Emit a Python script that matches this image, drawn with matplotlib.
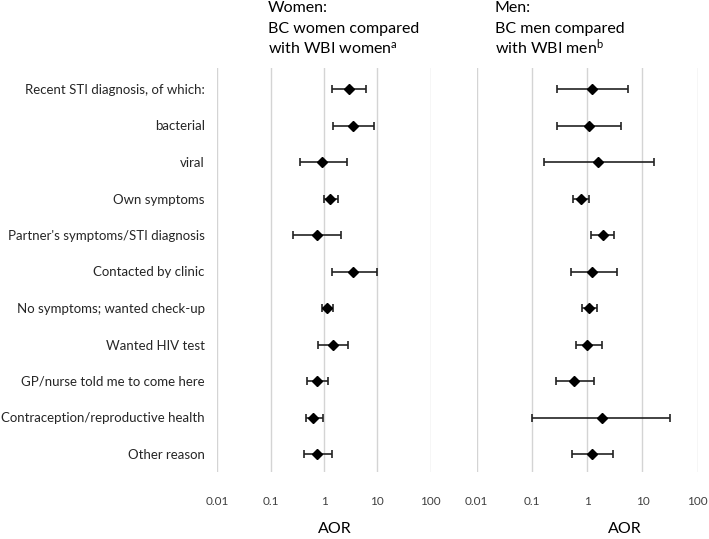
import matplotlib
matplotlib.use("Agg")
import matplotlib.pyplot as plt
import numpy as np

plt.rcParams['font.family'] = ['Lato', 'DejaVu Sans']
plt.rcParams['mathtext.fontset'] = 'custom'
plt.rcParams['mathtext.rm'] = 'Lato'
plt.rcParams['mathtext.it'] = 'Lato:italic'

categories = ["Recent STI diagnosis, of which:", "bacterial", "viral", "Own symptoms",
              "Partner's symptoms/STI diagnosis", "Contacted by clinic",
              "No symptoms; wanted check-up", "Wanted HIV test",
              "GP/nurse told me to come here", "Contraception/reproductive health",
              "Other reason"]

women_aor = [2.9, 3.5, 0.92, 1.29, 0.74, 3.5, 1.12, 1.48, 0.74, 0.62, 0.74]
women_low = [1.41, 1.47, 0.36, 1.0, 0.26, 1.4, 0.92, 0.77, 0.48, 0.46, 0.42]
women_high = [6.1, 8.6, 2.7, 1.8, 2.1, 9.8, 1.45, 2.8, 1.2, 0.97, 1.4]

men_aor = [1.2, 1.06, 1.58, 0.77, 1.9, 1.2, 1.07, 1.0, 0.58, 1.82, 1.2]
men_low = [0.29, 0.29, 0.165, 0.56, 1.18, 0.5, 0.79, 0.64, 0.27, 0.10, 0.52]
men_high = [5.4, 4.1, 16.3, 1.09, 3.0, 3.4, 1.5, 1.87, 1.34, 31.0, 2.9]

tick_values = [0.01, 0.1, 1, 10, 100]
tick_labels = ["0.01", "0.1", "1", "10", "100"]

W, H = 709, 539
fig = plt.figure(figsize=(W / 100, H / 100), dpi=100)

def fx(px):
    return px / W

def fy(py):
    return 1 - py / H

top_px, bot_px = 68, 472
row0, step = 89, 36.5
ax_w = fig.add_axes([fx(217.3), fy(bot_px), fx(430.7 - 217.3), (bot_px - top_px) / H])
ax_m = fig.add_axes([fx(476.7), fy(bot_px), fx(697.7 - 476.7), (bot_px - top_px) / H])

y = np.arange(len(categories))
ylo = (bot_px - row0) / step
yhi = -(row0 - top_px) / step

for ax, aor, lo, hi in [(ax_w, women_aor, women_low, women_high),
                        (ax_m, men_aor, men_low, men_high)]:
    aor = np.array(aor); lo = np.array(lo); hi = np.array(hi)
    ax.set_xscale('log')
    ax.set_xlim(0.01, 100)
    ax.set_ylim(ylo, yhi)
    ax.errorbar(aor, y, xerr=[aor - lo, hi - aor], fmt='D', color='black',
                ecolor='#222222', elinewidth=1.2, capsize=3, capthick=1.2,
                markersize=5.5, zorder=3)
    for s in ax.spines.values():
        s.set_visible(False)
    ax.set_xticks(tick_values)
    ax.set_xticklabels(tick_labels)
    ax.minorticks_off()
    ax.tick_params(axis='x', length=0, pad=17, labelsize=8.5, labelcolor='#404040')
    ax.grid(axis='x', color='#d4d4d4', linewidth=1.0)
    ax.set_axisbelow(True)
    ax.set_yticks([])

ax_w.set_yticks(y)
ax_w.set_yticklabels(categories)
ax_w.tick_params(axis='y', length=0, pad=9, labelsize=9.5, labelcolor='#262626')

# Titles
tsize = 11.5
for xpx, lines in [(268, ["Women:", "BC women compared", r"with WBI women$^{\mathrm{a}}$"]),
                   (495, ["Men:", "BC men compared", r"with WBI men$^{\mathrm{b}}$"])]:
    for ypx, txt in zip([12.5, 33, 53.5], lines):
        fig.text(fx(xpx), fy(ypx), txt, fontsize=tsize, va='baseline', ha='left')

fig.text(fx(335), fy(533), "AOR", fontsize=11.5, ha='center', va='baseline')
fig.text(fx(625), fy(533), "AOR", fontsize=11.5, ha='center', va='baseline')

fig.savefig("out.png", dpi=100)
